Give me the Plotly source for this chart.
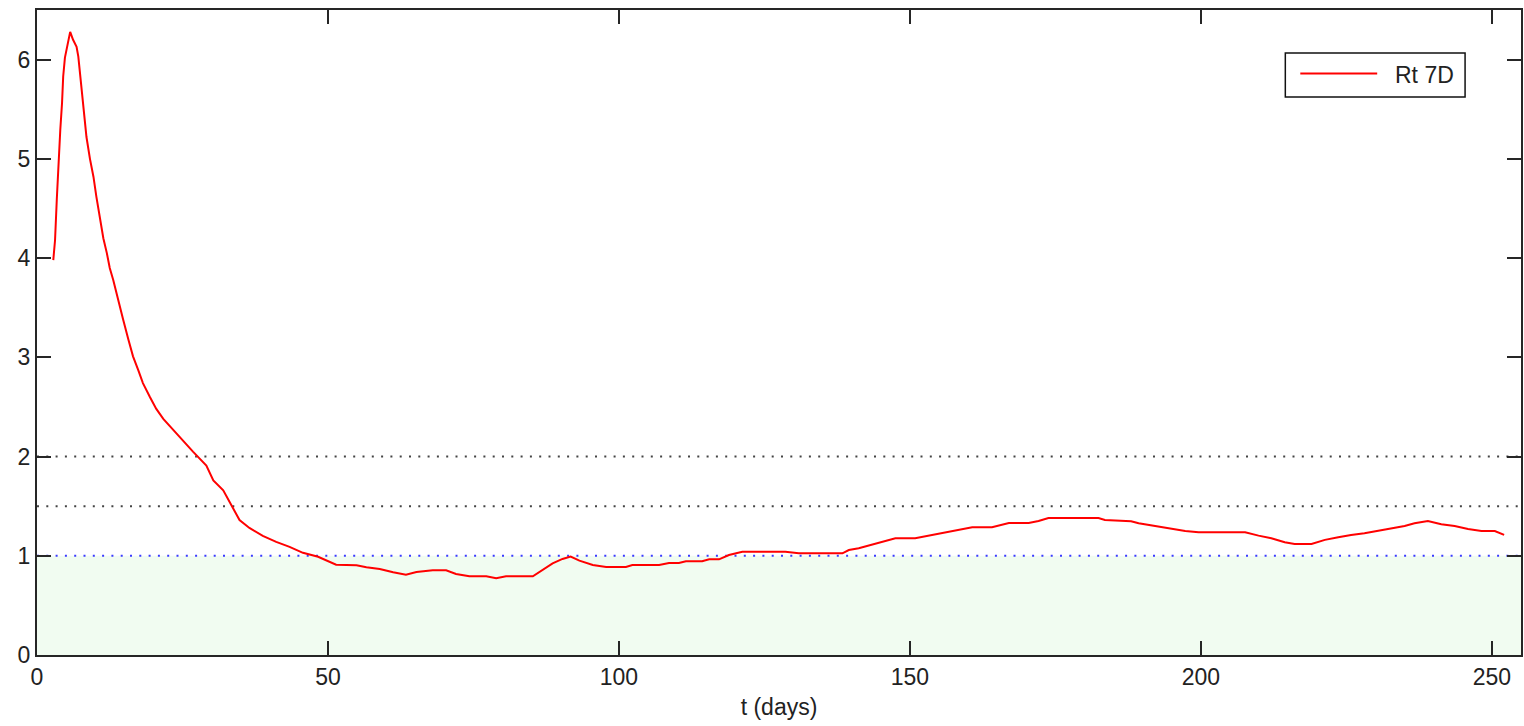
import plotly.graph_objects as go

# Rt (7-day window) against time in days
t_days = [2.8, 3.1, 3.4, 3.7, 4.0, 4.3, 4.5, 4.8, 5.1, 5.7, 6.2, 6.8, 7.1, 7.4, 7.9,
          8.5, 9.1, 9.7, 10.2, 10.8, 11.4, 12.0, 12.5, 13.1, 13.9, 14.8, 15.7, 16.5,
          17.4, 18.2, 19.4, 20.5, 21.7, 23.4, 25.1, 26.8, 29.1, 30.3, 32.0, 33.7, 34.8,
          36.5, 38.8, 41.1, 43.4, 45.7, 48.3, 51.4, 54.9, 56.6, 58.9, 61.2, 63.4, 65.2,
          68.0, 70.3, 72.0, 74.3, 77.2, 78.9, 80.6, 85.2, 86.9, 88.6, 90.3, 91.7, 93.2,
          95.5, 97.8, 101.2, 102.3, 106.9, 108.6, 110.3, 111.5, 114.3, 115.5, 117.2,
          118.9, 121.2, 128.6, 130.9, 138.4, 139.5, 141.2, 142.9, 144.6, 146.4, 147.5,
          150.9, 152.7, 154.4, 156.7, 159.0, 160.7, 164.1, 165.8, 167.0, 170.4, 172.1,
          173.8, 182.4, 183.5, 188.0, 189.3, 191.5, 193.8, 195.5, 197.3, 199.6, 207.6,
          209.9, 212.1, 214.4, 216.1, 219.0, 221.3, 223.6, 225.8, 228.1, 230.4, 232.7,
          235.0, 236.7, 239.0, 241.3, 243.6, 245.9, 248.2, 250.5, 252.1]
rt_7d = [3.98, 4.18, 4.59, 4.99, 5.29, 5.56, 5.83, 6.02, 6.12, 6.28, 6.20, 6.13, 6.03,
         5.85, 5.55, 5.22, 5.00, 4.82, 4.62, 4.40, 4.20, 4.05, 3.90, 3.78, 3.58, 3.38,
         3.18, 3.01, 2.87, 2.74, 2.60, 2.48, 2.38, 2.27, 2.15, 2.05, 1.91, 1.76, 1.66,
         1.48, 1.36, 1.28, 1.20, 1.14, 1.09, 1.03, 0.99, 0.91, 0.905, 0.884, 0.867,
         0.833, 0.81, 0.837, 0.853, 0.853, 0.817, 0.793, 0.793, 0.773, 0.793, 0.793,
         0.857, 0.924, 0.968, 0.991, 0.951, 0.907, 0.887, 0.887, 0.907, 0.907, 0.927,
         0.927, 0.944, 0.944, 0.964, 0.964, 1.008, 1.04, 1.04, 1.025, 1.025, 1.058,
         1.075, 1.102, 1.136, 1.16, 1.176, 1.176, 1.196, 1.216, 1.237, 1.267, 1.287,
         1.287, 1.314, 1.331, 1.331, 1.351, 1.381, 1.381, 1.361, 1.348, 1.328, 1.307,
         1.287, 1.267, 1.25, 1.237, 1.237, 1.203, 1.176, 1.136, 1.119, 1.119, 1.16,
         1.186, 1.21, 1.227, 1.253, 1.277, 1.30, 1.327, 1.35, 1.317, 1.30, 1.27, 1.25,
         1.25, 1.21]

series_name = "Rt 7D"
x_title = "t (days)"
x_ticks = [0, 50, 100, 150, 200, 250]
y_ticks = [0, 1, 2, 3, 4, 5, 6]
x_range = [0, 255]
y_range = [0, 6.5]
threshold_levels = [2.0, 1.5]   # dotted reference levels
unity_level = 1.0               # Rt = 1 boundary, shaded below

W, H = 1524, 726
M = dict(l=37, r=1, t=10, b=71)
AX = "#262626"
FONT = "Liberation Sans, Arial, sans-serif"
FS = 23


def px_x(p):
    return (p - M["l"]) / (W - M["l"] - M["r"])


def px_y(p):
    return (H - M["b"] - p) / (H - M["t"] - M["b"])


fig = go.Figure()
fig.add_trace(go.Scatter(x=t_days, y=rt_7d, mode="lines", name=series_name,
                         line=dict(color="#ff0000", width=2), showlegend=False))

shapes = [
    dict(type="rect", xref="x", yref="y", x0=x_range[0], x1=x_range[1],
         y0=0, y1=unity_level, fillcolor="#f1fcf1", line=dict(width=0), layer="below"),
]
for lv in threshold_levels:
    shapes.append(dict(type="line", xref="x", yref="y", x0=x_range[0], x1=x_range[1],
                       y0=lv, y1=lv, line=dict(color="#444444", width=2, dash="2px,7.3px"),
                       layer="below"))
shapes.append(dict(type="line", xref="x", yref="y", x0=x_range[0], x1=x_range[1],
                   y0=unity_level, y1=unity_level,
                   line=dict(color="#3a3aff", width=2, dash="2px,7.3px"), layer="below"))

# legend box
shapes.append(dict(type="rect", xref="paper", yref="paper",
                   x0=px_x(1287), x1=px_x(1467), y0=px_y(97), y1=px_y(53),
                   fillcolor="white", line=dict(color="#111111", width=1.5)))
shapes.append(dict(type="line", xref="paper", yref="paper",
                   x0=px_x(1302), x1=px_x(1379), y0=px_y(73.5), y1=px_y(73.5),
                   line=dict(color="#ff0000", width=2)))

fig.update_layout(
    width=W, height=H, margin=M,
    paper_bgcolor="white", plot_bgcolor="white",
    font=dict(family=FONT, size=FS, color="#222222"),
    shapes=shapes,
    annotations=[dict(xref="paper", yref="paper", x=px_x(1395), y=px_y(75),
                      xanchor="left", yanchor="middle", text=series_name,
                      showarrow=False, font=dict(family=FONT, size=FS, color="#222222"))],
    showlegend=False,
)
common = dict(showline=True, linecolor=AX, linewidth=2, mirror="allticks",
              ticks="inside", ticklen=14, tickwidth=2, tickcolor=AX,
              showgrid=False, zeroline=False,
              tickfont=dict(family=FONT, size=FS, color="#222222"))
fig.update_xaxes(range=x_range, tickvals=x_ticks, ticktext=[str(v) for v in x_ticks],
                 title=dict(text=x_title, standoff=10,
                            font=dict(family=FONT, size=FS, color="#222222")),
                 **common)
fig.update_yaxes(range=y_range, tickvals=y_ticks, ticktext=[str(v) for v in y_ticks],
                 **common)

fig.write_html("out.html")
